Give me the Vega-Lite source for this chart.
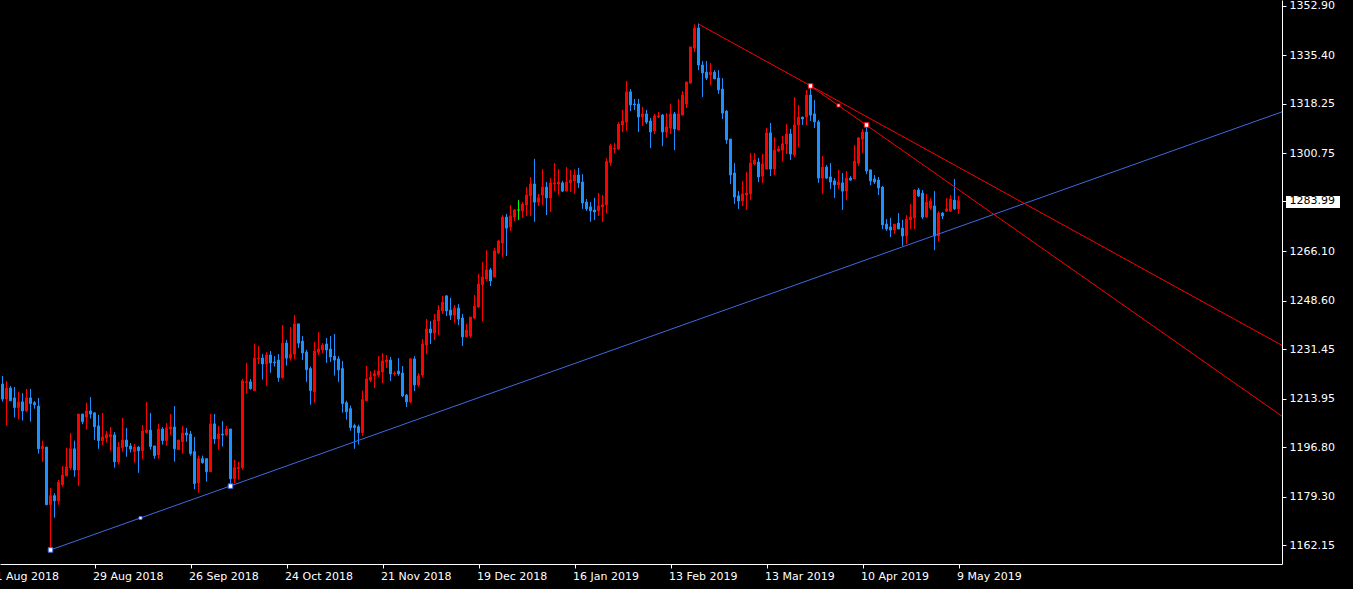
{
"$schema": "https://vega.github.io/schema/vega-lite/v6.json",
"width": 1282,
"height": 564,
"autosize": {"type": "none"},
"padding": {"left": 0, "top": 0, "right": 71, "bottom": 25},
"background": "#000000",
"config": {
  "view": {"stroke": null},
  "axis": {"grid": false, "domainColor": "#ffffff", "tickColor": "#ffffff", "labelColor": "#ffffff", "labelFont": "DejaVu Sans", "labelFontSize": 11, "title": null}
},
"datasets": {
"candles": [
{"i":0,"o":1219.1,"h":1222.0,"l":1212.9,"c":1213.8},
{"i":1,"o":1213.8,"h":1220.2,"l":1204.4,"c":1217.7},
{"i":2,"o":1217.7,"h":1218.4,"l":1213.2,"c":1213.2},
{"i":3,"o":1214.2,"h":1218.1,"l":1207.3,"c":1210.8},
{"i":4,"o":1210.8,"h":1216.3,"l":1206.6,"c":1212.8},
{"i":5,"o":1212.8,"h":1215.9,"l":1206.2,"c":1209.6},
{"i":6,"o":1209.6,"h":1217.4,"l":1209.3,"c":1214.2},
{"i":7,"o":1214.2,"h":1217.4,"l":1205.8,"c":1212.2},
{"i":8,"o":1212.5,"h":1213.1,"l":1210.4,"c":1211.8},
{"i":9,"o":1211.3,"h":1214.2,"l":1194.5,"c":1196.2},
{"i":10,"o":1196.2,"h":1199.1,"l":1191.6,"c":1197.0},
{"i":11,"o":1196.8,"h":1196.8,"l":1176.4,"c":1176.4},
{"i":12,"o":1176.4,"h":1182.3,"l":1160.3,"c":1179.6},
{"i":13,"o":1179.6,"h":1180.5,"l":1171.8,"c":1177.8},
{"i":14,"o":1177.8,"h":1185.2,"l":1176.4,"c":1184.4},
{"i":15,"o":1183.5,"h":1190.1,"l":1182.8,"c":1186.9},
{"i":16,"o":1186.6,"h":1196.6,"l":1186.6,"c":1189.8},
{"i":17,"o":1189.5,"h":1201.8,"l":1188.7,"c":1196.2},
{"i":18,"o":1196.2,"h":1199.1,"l":1186.3,"c":1188.7},
{"i":19,"o":1188.7,"h":1208.5,"l":1183.0,"c":1208.5},
{"i":20,"o":1208.5,"h":1208.5,"l":1204.9,"c":1205.8},
{"i":21,"o":1207.4,"h":1212.5,"l":1203.0,"c":1209.6},
{"i":22,"o":1209.6,"h":1214.5,"l":1206.9,"c":1208.5},
{"i":23,"o":1208.9,"h":1209.2,"l":1199.3,"c":1204.0},
{"i":24,"o":1204.3,"h":1208.2,"l":1196.2,"c":1199.1},
{"i":25,"o":1199.1,"h":1208.9,"l":1197.5,"c":1200.4},
{"i":26,"o":1200.0,"h":1202.5,"l":1198.4,"c":1201.2},
{"i":27,"o":1200.4,"h":1203.9,"l":1195.5,"c":1201.2},
{"i":28,"o":1201.1,"h":1202.1,"l":1189.5,"c":1191.6},
{"i":29,"o":1191.6,"h":1198.6,"l":1190.6,"c":1196.8},
{"i":30,"o":1196.6,"h":1207.1,"l":1195.2,"c":1199.3},
{"i":31,"o":1199.3,"h":1203.6,"l":1193.4,"c":1197.0},
{"i":32,"o":1197.2,"h":1198.2,"l":1194.9,"c":1196.1},
{"i":33,"o":1195.2,"h":1197.9,"l":1191.3,"c":1196.8},
{"i":34,"o":1196.8,"h":1197.2,"l":1187.7,"c":1195.5},
{"i":35,"o":1195.5,"h":1204.6,"l":1192.6,"c":1202.5},
{"i":36,"o":1202.0,"h":1212.8,"l":1201.7,"c":1202.8},
{"i":37,"o":1202.8,"h":1208.9,"l":1195.9,"c":1197.0},
{"i":38,"o":1197.2,"h":1197.2,"l":1192.7,"c":1193.8},
{"i":39,"o":1194.1,"h":1205.0,"l":1192.7,"c":1203.2},
{"i":40,"o":1203.2,"h":1203.9,"l":1197.7,"c":1199.1},
{"i":41,"o":1199.1,"h":1205.3,"l":1197.3,"c":1203.6},
{"i":42,"o":1203.2,"h":1208.5,"l":1201.1,"c":1203.9},
{"i":43,"o":1203.9,"h":1211.3,"l":1191.6,"c":1196.2},
{"i":44,"o":1195.9,"h":1199.3,"l":1195.9,"c":1199.3},
{"i":45,"o":1198.7,"h":1204.3,"l":1194.5,"c":1201.8},
{"i":46,"o":1201.8,"h":1203.6,"l":1198.7,"c":1201.1},
{"i":47,"o":1201.4,"h":1202.5,"l":1193.8,"c":1194.5},
{"i":48,"o":1195.2,"h":1200.4,"l":1181.9,"c":1183.9},
{"i":49,"o":1184.2,"h":1193.8,"l":1180.7,"c":1192.7},
{"i":50,"o":1192.7,"h":1193.8,"l":1190.9,"c":1191.3},
{"i":51,"o":1192.7,"h":1192.7,"l":1184.6,"c":1188.1},
{"i":52,"o":1188.1,"h":1208.5,"l":1188.1,"c":1205.0},
{"i":53,"o":1205.0,"h":1208.5,"l":1197.9,"c":1199.7},
{"i":54,"o":1199.7,"h":1204.3,"l":1195.9,"c":1201.4},
{"i":55,"o":1201.4,"h":1206.0,"l":1197.0,"c":1201.1},
{"i":56,"o":1201.1,"h":1204.3,"l":1200.7,"c":1203.2},
{"i":57,"o":1203.2,"h":1203.2,"l":1183.0,"c":1185.6},
{"i":58,"o":1185.6,"h":1192.3,"l":1183.9,"c":1189.5},
{"i":59,"o":1189.2,"h":1191.6,"l":1185.3,"c":1189.5},
{"i":60,"o":1189.5,"h":1220.9,"l":1188.8,"c":1220.2},
{"i":61,"o":1219.6,"h":1226.6,"l":1215.7,"c":1219.9},
{"i":62,"o":1219.9,"h":1220.9,"l":1217.1,"c":1217.5},
{"i":63,"o":1216.8,"h":1233.4,"l":1216.8,"c":1228.3},
{"i":64,"o":1228.0,"h":1232.6,"l":1226.2,"c":1228.3},
{"i":65,"o":1228.3,"h":1229.7,"l":1220.7,"c":1226.2},
{"i":66,"o":1226.2,"h":1230.4,"l":1218.5,"c":1229.4},
{"i":67,"o":1229.4,"h":1230.8,"l":1223.1,"c":1226.6},
{"i":68,"o":1226.9,"h":1229.0,"l":1225.3,"c":1226.6},
{"i":69,"o":1227.6,"h":1229.7,"l":1219.9,"c":1221.4},
{"i":70,"o":1221.4,"h":1240.0,"l":1221.0,"c":1233.6},
{"i":71,"o":1233.6,"h":1234.7,"l":1225.6,"c":1228.3},
{"i":72,"o":1228.3,"h":1239.3,"l":1227.4,"c":1229.7},
{"i":73,"o":1229.7,"h":1243.5,"l":1228.0,"c":1240.4},
{"i":74,"o":1240.4,"h":1240.4,"l":1231.9,"c":1233.6},
{"i":75,"o":1234.3,"h":1236.1,"l":1227.6,"c":1230.1},
{"i":76,"o":1230.4,"h":1231.2,"l":1219.9,"c":1224.2},
{"i":77,"o":1224.6,"h":1225.3,"l":1211.8,"c":1216.8},
{"i":78,"o":1216.4,"h":1234.0,"l":1212.5,"c":1230.8},
{"i":79,"o":1230.4,"h":1237.5,"l":1229.4,"c":1231.5},
{"i":80,"o":1231.2,"h":1233.6,"l":1230.1,"c":1232.9},
{"i":81,"o":1233.3,"h":1235.4,"l":1226.6,"c":1231.2},
{"i":82,"o":1231.5,"h":1236.1,"l":1226.9,"c":1228.7},
{"i":83,"o":1229.0,"h":1236.8,"l":1222.1,"c":1227.6},
{"i":84,"o":1228.0,"h":1229.0,"l":1219.9,"c":1224.1},
{"i":85,"o":1224.6,"h":1227.3,"l":1209.0,"c":1212.2},
{"i":86,"o":1212.5,"h":1213.2,"l":1206.5,"c":1209.3},
{"i":87,"o":1210.4,"h":1211.5,"l":1202.6,"c":1203.7},
{"i":88,"o":1204.4,"h":1205.1,"l":1196.2,"c":1203.7},
{"i":89,"o":1204.0,"h":1204.7,"l":1197.7,"c":1201.9},
{"i":90,"o":1201.9,"h":1216.8,"l":1200.8,"c":1213.6},
{"i":91,"o":1213.2,"h":1225.5,"l":1213.2,"c":1220.9},
{"i":92,"o":1220.5,"h":1223.7,"l":1219.8,"c":1221.6},
{"i":93,"o":1222.0,"h":1224.1,"l":1217.7,"c":1222.7},
{"i":94,"o":1222.3,"h":1229.0,"l":1221.6,"c":1223.7},
{"i":95,"o":1223.4,"h":1230.1,"l":1219.5,"c":1227.3},
{"i":96,"o":1226.9,"h":1229.4,"l":1224.8,"c":1227.6},
{"i":97,"o":1227.6,"h":1228.7,"l":1220.2,"c":1222.7},
{"i":98,"o":1222.7,"h":1223.7,"l":1222.0,"c":1223.0},
{"i":99,"o":1223.7,"h":1228.3,"l":1222.0,"c":1222.7},
{"i":100,"o":1223.0,"h":1225.5,"l":1214.5,"c":1214.9},
{"i":101,"o":1215.2,"h":1215.6,"l":1211.0,"c":1212.8},
{"i":102,"o":1212.8,"h":1228.3,"l":1212.4,"c":1228.0},
{"i":103,"o":1228.0,"h":1229.0,"l":1216.6,"c":1218.8},
{"i":104,"o":1218.8,"h":1223.0,"l":1218.1,"c":1222.0},
{"i":105,"o":1222.3,"h":1235.0,"l":1221.6,"c":1233.3},
{"i":106,"o":1232.9,"h":1242.1,"l":1229.7,"c":1238.6},
{"i":107,"o":1238.6,"h":1241.4,"l":1233.3,"c":1237.2},
{"i":108,"o":1237.2,"h":1243.9,"l":1234.7,"c":1241.8},
{"i":109,"o":1241.4,"h":1247.1,"l":1236.5,"c":1245.3},
{"i":110,"o":1245.0,"h":1250.3,"l":1243.9,"c":1248.1},
{"i":111,"o":1250.3,"h":1250.6,"l":1243.2,"c":1245.0},
{"i":112,"o":1245.3,"h":1249.6,"l":1241.8,"c":1243.5},
{"i":113,"o":1243.5,"h":1247.1,"l":1240.7,"c":1246.0},
{"i":114,"o":1246.0,"h":1247.4,"l":1240.0,"c":1242.1},
{"i":115,"o":1242.5,"h":1243.9,"l":1232.6,"c":1235.8},
{"i":116,"o":1235.8,"h":1240.4,"l":1235.8,"c":1238.2},
{"i":117,"o":1236.1,"h":1242.8,"l":1235.4,"c":1242.8},
{"i":118,"o":1242.5,"h":1250.6,"l":1242.1,"c":1246.7},
{"i":119,"o":1246.4,"h":1258.1,"l":1246.0,"c":1254.5},
{"i":120,"o":1254.2,"h":1262.3,"l":1241.4,"c":1257.0},
{"i":121,"o":1256.3,"h":1266.5,"l":1255.6,"c":1259.5},
{"i":122,"o":1259.5,"h":1260.2,"l":1253.8,"c":1255.6},
{"i":123,"o":1257.0,"h":1267.3,"l":1257.0,"c":1266.2},
{"i":124,"o":1265.5,"h":1270.1,"l":1265.1,"c":1269.7},
{"i":125,"o":1269.0,"h":1278.9,"l":1264.1,"c":1278.2},
{"i":126,"o":1278.2,"h":1279.3,"l":1264.4,"c":1274.3},
{"i":127,"o":1274.7,"h":1282.5,"l":1273.3,"c":1278.6},
{"i":128,"o":1278.2,"h":1281.1,"l":1276.8,"c":1280.7},
{"i":129,"o":1280.7,"h":1284.2,"l":1277.2,"c":1280.7},
{"i":130,"o":1280.4,"h":1283.5,"l":1277.9,"c":1282.8},
{"i":131,"o":1282.5,"h":1288.8,"l":1278.6,"c":1286.0},
{"i":132,"o":1285.7,"h":1292.4,"l":1278.6,"c":1289.9},
{"i":133,"o":1289.9,"h":1298.8,"l":1276.5,"c":1283.5},
{"i":134,"o":1283.5,"h":1286.4,"l":1282.1,"c":1285.0},
{"i":135,"o":1286.0,"h":1295.2,"l":1282.5,"c":1288.8},
{"i":136,"o":1288.8,"h":1290.6,"l":1278.9,"c":1285.0},
{"i":137,"o":1285.0,"h":1292.0,"l":1280.0,"c":1290.3},
{"i":138,"o":1289.9,"h":1297.3,"l":1287.4,"c":1290.3},
{"i":139,"o":1289.9,"h":1295.2,"l":1286.0,"c":1290.6},
{"i":140,"o":1290.3,"h":1291.0,"l":1287.1,"c":1287.4},
{"i":141,"o":1287.4,"h":1295.9,"l":1287.4,"c":1290.6},
{"i":142,"o":1290.3,"h":1294.9,"l":1287.1,"c":1291.3},
{"i":143,"o":1291.0,"h":1295.2,"l":1286.4,"c":1293.1},
{"i":144,"o":1293.1,"h":1295.6,"l":1288.5,"c":1290.3},
{"i":145,"o":1290.6,"h":1293.4,"l":1281.1,"c":1283.2},
{"i":146,"o":1283.5,"h":1284.6,"l":1280.4,"c":1281.1},
{"i":147,"o":1281.8,"h":1283.5,"l":1276.5,"c":1280.4},
{"i":148,"o":1280.7,"h":1285.0,"l":1277.2,"c":1280.0},
{"i":149,"o":1280.4,"h":1286.7,"l":1278.6,"c":1282.1},
{"i":150,"o":1281.8,"h":1286.0,"l":1276.5,"c":1282.5},
{"i":151,"o":1282.5,"h":1299.0,"l":1279.5,"c":1297.8},
{"i":152,"o":1297.5,"h":1304.1,"l":1296.3,"c":1303.4},
{"i":153,"o":1302.3,"h":1304.4,"l":1300.8,"c":1302.6},
{"i":154,"o":1302.3,"h":1311.8,"l":1301.9,"c":1311.1},
{"i":155,"o":1310.8,"h":1316.1,"l":1308.3,"c":1312.2},
{"i":156,"o":1311.8,"h":1326.4,"l":1308.7,"c":1322.5},
{"i":157,"o":1322.5,"h":1323.5,"l":1315.7,"c":1317.9},
{"i":158,"o":1318.2,"h":1320.0,"l":1316.1,"c":1317.9},
{"i":159,"o":1318.2,"h":1320.0,"l":1308.3,"c":1313.6},
{"i":160,"o":1313.6,"h":1317.2,"l":1310.4,"c":1314.7},
{"i":161,"o":1314.7,"h":1316.1,"l":1311.1,"c":1311.8},
{"i":162,"o":1312.2,"h":1313.3,"l":1302.6,"c":1308.3},
{"i":163,"o":1308.7,"h":1314.7,"l":1307.6,"c":1314.0},
{"i":164,"o":1313.6,"h":1315.4,"l":1313.3,"c":1314.0},
{"i":165,"o":1314.3,"h":1314.7,"l":1303.3,"c":1308.3},
{"i":166,"o":1308.3,"h":1315.0,"l":1306.2,"c":1310.1},
{"i":167,"o":1309.7,"h":1318.2,"l":1307.6,"c":1314.7},
{"i":168,"o":1314.7,"h":1315.4,"l":1301.9,"c":1309.4},
{"i":169,"o":1309.0,"h":1320.0,"l":1309.0,"c":1314.7},
{"i":170,"o":1314.3,"h":1322.8,"l":1314.3,"c":1321.4},
{"i":171,"o":1318.2,"h":1326.0,"l":1316.8,"c":1326.0},
{"i":172,"o":1325.6,"h":1338.4,"l":1325.6,"c":1338.4},
{"i":173,"o":1338.0,"h":1346.4,"l":1336.6,"c":1345.1},
{"i":174,"o":1345.1,"h":1346.7,"l":1330.2,"c":1332.0},
{"i":175,"o":1332.0,"h":1333.4,"l":1320.7,"c":1329.2},
{"i":176,"o":1329.5,"h":1333.4,"l":1326.7,"c":1327.4},
{"i":177,"o":1328.5,"h":1332.7,"l":1324.9,"c":1329.5},
{"i":178,"o":1329.5,"h":1330.2,"l":1327.1,"c":1327.1},
{"i":179,"o":1327.4,"h":1330.2,"l":1321.8,"c":1323.2},
{"i":180,"o":1323.5,"h":1327.4,"l":1312.9,"c":1315.0},
{"i":181,"o":1315.7,"h":1316.1,"l":1304.1,"c":1305.5},
{"i":182,"o":1305.8,"h":1305.8,"l":1289.9,"c":1293.1},
{"i":183,"o":1293.8,"h":1297.3,"l":1282.8,"c":1285.3},
{"i":184,"o":1285.7,"h":1287.4,"l":1281.1,"c":1283.9},
{"i":185,"o":1283.9,"h":1291.0,"l":1282.1,"c":1286.4},
{"i":186,"o":1286.0,"h":1294.2,"l":1280.7,"c":1286.7},
{"i":187,"o":1286.4,"h":1300.9,"l":1284.2,"c":1297.3},
{"i":188,"o":1297.0,"h":1300.9,"l":1296.6,"c":1298.4},
{"i":189,"o":1297.7,"h":1299.1,"l":1290.6,"c":1292.4},
{"i":190,"o":1292.7,"h":1300.5,"l":1290.3,"c":1297.0},
{"i":191,"o":1295.2,"h":1309.7,"l":1295.2,"c":1308.0},
{"i":192,"o":1308.0,"h":1311.5,"l":1292.7,"c":1295.2},
{"i":193,"o":1295.2,"h":1306.5,"l":1293.1,"c":1301.9},
{"i":194,"o":1301.6,"h":1303.4,"l":1301.2,"c":1302.3},
{"i":195,"o":1301.9,"h":1306.9,"l":1298.0,"c":1304.1},
{"i":196,"o":1304.1,"h":1311.1,"l":1300.5,"c":1307.6},
{"i":197,"o":1307.6,"h":1309.4,"l":1298.4,"c":1300.5},
{"i":198,"o":1300.2,"h":1320.7,"l":1299.5,"c":1310.8},
{"i":199,"o":1310.8,"h":1317.9,"l":1303.0,"c":1313.6},
{"i":200,"o":1313.6,"h":1313.6,"l":1310.8,"c":1312.9},
{"i":201,"o":1313.6,"h":1323.2,"l":1310.8,"c":1321.4},
{"i":202,"o":1321.4,"h":1324.6,"l":1312.2,"c":1314.3},
{"i":203,"o":1314.7,"h":1319.6,"l":1309.7,"c":1311.9},
{"i":204,"o":1311.9,"h":1312.6,"l":1290.3,"c":1292.0},
{"i":205,"o":1292.0,"h":1299.8,"l":1286.4,"c":1295.9},
{"i":206,"o":1295.9,"h":1296.6,"l":1291.7,"c":1292.0},
{"i":207,"o":1292.4,"h":1297.3,"l":1288.1,"c":1290.6},
{"i":208,"o":1291.0,"h":1292.0,"l":1285.0,"c":1289.6},
{"i":209,"o":1289.6,"h":1294.9,"l":1288.1,"c":1290.6},
{"i":210,"o":1290.3,"h":1293.8,"l":1280.7,"c":1287.4},
{"i":211,"o":1287.4,"h":1294.5,"l":1284.2,"c":1292.0},
{"i":212,"o":1292.0,"h":1292.7,"l":1291.0,"c":1291.3},
{"i":213,"o":1291.7,"h":1303.7,"l":1291.7,"c":1298.0},
{"i":214,"o":1297.3,"h":1306.5,"l":1296.3,"c":1306.2},
{"i":215,"o":1305.8,"h":1309.4,"l":1300.9,"c":1308.3},
{"i":216,"o":1308.3,"h":1310.8,"l":1293.4,"c":1294.5},
{"i":217,"o":1294.9,"h":1294.9,"l":1289.5,"c":1291.0},
{"i":218,"o":1291.7,"h":1293.1,"l":1289.9,"c":1290.6},
{"i":219,"o":1291.3,"h":1292.4,"l":1286.0,"c":1288.5},
{"i":220,"o":1288.8,"h":1289.2,"l":1274.0,"c":1275.4},
{"i":221,"o":1275.7,"h":1277.5,"l":1273.3,"c":1274.0},
{"i":222,"o":1274.7,"h":1277.9,"l":1271.1,"c":1273.6},
{"i":223,"o":1273.6,"h":1275.7,"l":1272.2,"c":1275.7},
{"i":224,"o":1276.1,"h":1279.6,"l":1274.0,"c":1274.0},
{"i":225,"o":1274.3,"h":1277.2,"l":1268.0,"c":1271.5},
{"i":226,"o":1271.5,"h":1278.9,"l":1268.7,"c":1277.5},
{"i":227,"o":1277.2,"h":1282.8,"l":1274.0,"c":1278.2},
{"i":228,"o":1277.9,"h":1288.1,"l":1274.0,"c":1287.8},
{"i":229,"o":1287.8,"h":1288.5,"l":1285.3,"c":1285.7},
{"i":230,"o":1286.7,"h":1287.8,"l":1277.5,"c":1278.2},
{"i":231,"o":1278.2,"h":1286.4,"l":1277.9,"c":1283.5},
{"i":232,"o":1281.4,"h":1284.9,"l":1280.7,"c":1283.9},
{"i":233,"o":1282.1,"h":1287.4,"l":1266.5,"c":1271.5},
{"i":234,"o":1271.5,"h":1280.3,"l":1269.7,"c":1279.6},
{"i":235,"o":1279.6,"h":1280.0,"l":1277.5,"c":1278.6},
{"i":236,"o":1280.3,"h":1284.9,"l":1280.0,"c":1281.1},
{"i":237,"o":1280.3,"h":1286.0,"l":1280.0,"c":1284.6},
{"i":238,"o":1284.2,"h":1291.7,"l":1280.7,"c":1281.1},
{"i":239,"o":1281.1,"h":1285.7,"l":1279.3,"c":1283.99}
],
"lines": [
{"name":"support","i":12,"p":1160.4},
{"name":"support","i":320,"p":1315.5},
{"name":"resistance1","i":174,"p":1346.5},
{"name":"resistance1","i":320,"p":1232.7},
{"name":"resistance2","i":202,"p":1324.6},
{"name":"resistance2","i":320,"p":1207.6}
],
"anchors": [
{"name":"support","kind":"anchor","i":12,"p":1160.4},
{"name":"support","kind":"middle","i":34.5,"p":1171.7},
{"name":"support","kind":"anchor","i":57,"p":1183.0},
{"name":"resistance2","kind":"anchor","i":202,"p":1324.6},
{"name":"resistance2","kind":"middle","i":209,"p":1317.7},
{"name":"resistance2","kind":"anchor","i":216,"p":1310.8}
]
},
"layer": [
{
  "data": {"name": "candles"},
  "mark": {"type": "rule", "strokeWidth": 1},
  "encoding": {
    "x": {"field": "i", "type": "quantitative",
      "scale": {"domain": [-0.625, 319.875], "nice": false, "zero": false, "padding": 0},
      "axis": {"orient": "bottom",
        "values": [-0.625, 23, 47, 71, 95, 119, 143, 167, 191, 215, 239],
        "labelExpr": "datum.value < 0 ? '1 Aug 2018' : datum.value == 23 ? '29 Aug 2018' : datum.value == 47 ? '26 Sep 2018' : datum.value == 71 ? '24 Oct 2018' : datum.value == 95 ? '21 Nov 2018' : datum.value == 119 ? '19 Dec 2018' : datum.value == 143 ? '16 Jan 2019' : datum.value == 167 ? '13 Feb 2019' : datum.value == 191 ? '13 Mar 2019' : datum.value == 215 ? '10 Apr 2019' : '9 May 2019'",
        "labelAlign": "left", "labelFlush": false, "labelOverlap": false, "labelBound": false,
        "labelOffset": {"condition": {"test": "datum.value < 0", "value": -5}, "value": -2},
        "tickColor": {"condition": {"test": "datum.value < 0", "value": "transparent"}, "value": "#ffffff"},
        "tickSize": 4, "labelPadding": 2}},
    "y": {"field": "l", "type": "quantitative",
      "scale": {"domain": [1155.43, 1355.02], "nice": false, "zero": false, "padding": 0},
      "axis": {"orient": "right",
        "values": [1352.90, 1335.40, 1318.25, 1300.75, 1283.99, 1266.10, 1248.60, 1231.45, 1213.95, 1196.80, 1179.30, 1162.15],
        "format": ".2f", "tickSize": 4, "labelPadding": 3, "zindex": 1,
        "labelFlush": false, "labelOverlap": false, "labelBaseline": "middle",
        "labelColor": {"condition": {"test": "datum.value == 1283.99", "value": "#000000"}, "value": "#ffffff"}}},
    "y2": {"field": "h"},
    "color": {"condition": [{"test": "datum.c > datum.o", "value": "#ff0000"}, {"test": "datum.c < datum.o", "value": "#1e90ff"}], "value": "#00ff00"}
  }
},
{
  "data": {"name": "candles"},
  "mark": {"type": "bar", "size": 2, "strokeWidth": 1},
  "encoding": {
    "x": {"field": "i", "type": "quantitative"},
    "y": {"field": "o", "type": "quantitative"},
    "y2": {"field": "c"},
    "fill": {"condition": [{"test": "datum.c > datum.o", "value": "#ff0000"}, {"test": "datum.c < datum.o", "value": "#1e90ff"}], "value": "#00ff00"},
    "stroke": {"condition": [{"test": "datum.c > datum.o", "value": "#ff0000"}, {"test": "datum.c < datum.o", "value": "#1e90ff"}], "value": "#00ff00"}
  }
},
{
  "data": {"name": "lines"},
  "mark": {"type": "line", "strokeWidth": 1, "clip": true},
  "encoding": {
    "x": {"field": "i", "type": "quantitative"},
    "y": {"field": "p", "type": "quantitative"},
    "color": {"field": "name", "type": "nominal",
      "scale": {"domain": ["support", "resistance1", "resistance2"], "range": ["#4169e1", "#ff0000", "#ff0000"]},
      "legend": null}
  }
},
{
  "data": {"name": "anchors"},
  "mark": {"type": "point", "shape": "square", "filled": true, "fill": "#ffffff", "opacity": 1, "strokeWidth": 1},
  "encoding": {
    "x": {"field": "i", "type": "quantitative"},
    "y": {"field": "p", "type": "quantitative"},
    "stroke": {"field": "name", "type": "nominal",
      "scale": {"domain": ["support", "resistance1", "resistance2"], "range": ["#4169e1", "#ff0000", "#ff0000"]},
      "legend": null},
    "size": {"field": "kind", "type": "nominal",
      "scale": {"domain": ["anchor", "middle"], "range": [20, 9]},
      "legend": null}
  }
},
{
  "data": {"values": [{}]},
  "mark": {"type": "rect", "fill": "#ffffff"},
  "encoding": {
    "x": {"datum": 320.875, "type": "quantitative"},
    "x2": {"datum": 334.375},
    "y": {"datum": 1285.66, "type": "quantitative"},
    "y2": {"datum": 1281.41}
  }
}
]
}
